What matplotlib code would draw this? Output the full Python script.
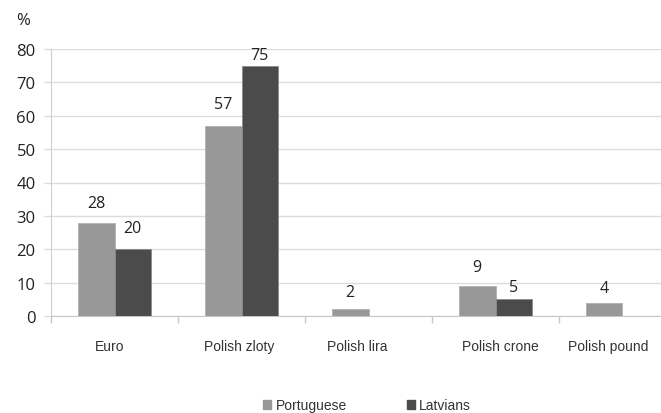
import numpy as np
import matplotlib
matplotlib.use("Agg")
import matplotlib.pyplot as plt
from matplotlib.patches import Patch

categories = ["Euro", "Polish zloty", "Polish lira", "Polish crone", "Polish pound"]
portuguese = [28, 57, 2, 9, 4]
latvians = [20, 75, 0, 5, 0]
yticks = [0, 10, 20, 30, 40, 50, 60, 70, 80]

# label placement tweaks (category units / pixels above bar)
cat_label_shift = [-0.04, -0.02, -0.09, 0.04, -0.11]
pt_label_gap = [12, 14, 9, 11, 7]
lv_label_gap = [13, 3, 0, 4, 0]

col_pt = "#989898"
col_lv = "#4b4b4b"
txt = "#333333"

fig = plt.figure(figsize=(6.61, 4.14), dpi=100)
ax = fig.add_axes([51 / 661, 1 - 317 / 414, 635 / 661, 267 / 414])

x = np.arange(len(categories)) + 0.5
w = 0.287
b1 = ax.bar(x - w / 2, portuguese, w, color=col_pt, edgecolor="#b0b0b0", linewidth=0.6, zorder=3)
b2 = ax.bar(x + w / 2, latvians, w, color=col_lv, edgecolor="#8a8a8a", linewidth=0.6, zorder=3)

num_font = {"family": ["Open Sans", "DejaVu Sans"], "size": 11.5, "color": "#222222"}
for bars, vals, gaps in ((b1, portuguese, pt_label_gap), (b2, latvians, lv_label_gap)):
    for r, v, g in zip(bars, vals, gaps):
        if v > 0:
            ax.annotate(str(v), (r.get_x() + r.get_width() / 2, v), xytext=(0, g * 0.72),
                        textcoords="offset points", ha="center", va="bottom", **num_font)

ax.set_xlim(0, len(categories))
ax.set_ylim(0, 80)
ax.set_yticks(yticks)
ax.set_yticklabels([str(t) for t in yticks], fontfamily="Open Sans", fontsize=12, color="#222222")
ax.yaxis.grid(True, color="#dcdcdc", linewidth=1.0, zorder=0)
ax.set_axisbelow(True)

ax.set_xticks(np.arange(len(categories) + 1))
ax.set_xticklabels([])
ax.tick_params(axis="x", direction="out", length=5, color="#c8c8c8", width=1)
ax.tick_params(axis="y", direction="out", length=5, color="#dcdcdc", width=1, pad=6)

for s in ("top", "right"):
    ax.spines[s].set_visible(False)
ax.spines["left"].set_color("#cfcfcf")
ax.spines["bottom"].set_color("#c8c8c8")

for xi, lab, sh in zip(x, categories, cat_label_shift):
    ax.text(xi + sh, -9.0, lab, ha="center", va="center", fontfamily="Liberation Sans",
            fontsize=10, color=txt)

fig.text(23 / 661, 1 - 21 / 414, "%", ha="center", va="center",
         fontfamily="Open Sans", fontsize=12, color="#222222")

handles = [Patch(facecolor=col_pt, edgecolor=col_pt, label="Portuguese"),
           Patch(facecolor=col_lv, edgecolor=col_lv, label="Latvians")]
leg = fig.legend(handles=handles, loc="center", bbox_to_anchor=(367 / 661, 1 - 406 / 414),
                 ncol=2, frameon=False, handlelength=0.6, handleheight=0.6,
                 handletextpad=0.3, columnspacing=4.3,
                 prop={"family": "Liberation Sans", "size": 10})
for t in leg.get_texts():
    t.set_color(txt)

fig.savefig("out.png", dpi=100, facecolor="white")
